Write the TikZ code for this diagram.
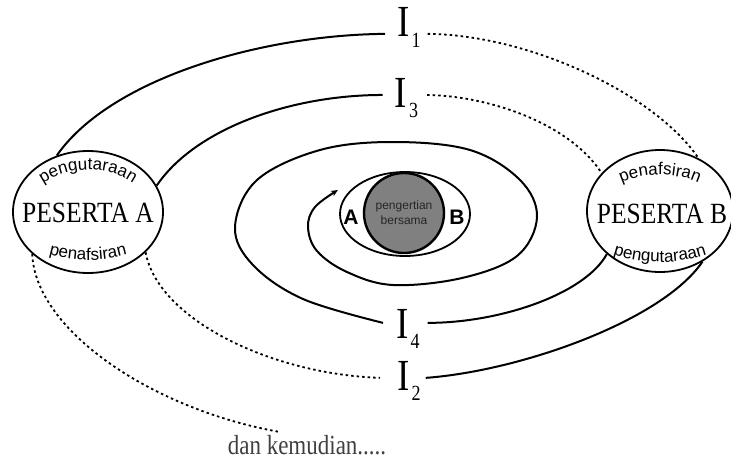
\documentclass[tikz,border=0pt]{standalone}
\usepackage{fontspec}
\setmainfont{Liberation Serif}
\setsansfont{Liberation Sans}
\usetikzlibrary{shapes.geometric,decorations.text,arrows.meta}
\newcommand\Ilab[1]{\scalebox{1}[1.2]{\fontsize{37}{37}\selectfont I\kern2pt\raisebox{-9pt}{\fontsize{18}{18}\selectfont #1}}}
\begin{document}
\begin{tikzpicture}[x=1pt,y=1pt,
  orbit/.style={line width=2pt},
  dotline/.style={line width=1.8pt,dash pattern=on 2.5pt off 3pt},
  pellipse/.style={draw,ellipse,line width=1.8pt,minimum width=150pt,minimum height=122pt,inner sep=0pt},
  ptext/.style={font=\fontsize{25.5}{25.5}\selectfont,inner sep=0pt},
  ilab/.style={inner sep=0pt,anchor=base west},
  ctext/.style={decorate,decoration={text along path,text align=center,text={|\sffamily\fontsize{17}{17}\selectfont|#1}}},
  abl/.style={font=\sffamily\bfseries\fontsize{21}{21}\selectfont,inner sep=0pt}]
\useasboundingbox (0,0) rectangle (731,459);

% participants
\node[pellipse] (PA) at (88,247) {};
\node[pellipse,minimum width=146pt] (PB) at (660,248) {};
\node[ptext] (PAt) at (88,246) {\scalebox{1}[1.15]{PESERTA A}};
\node[ptext] (PBt) at (662,245) {\scalebox{1}[1.15]{PESERTA B}};

\path[ctext=pengutaraan] (PA.center) ++(165:62pt and 42pt) arc[start angle=165,end angle=15,x radius=62pt,y radius=42pt];
\path[ctext=penafsiran] (PA.center) ++(205:85pt and 48pt) arc[start angle=205,end angle=335,x radius=85pt,y radius=48pt];
\path[ctext=penafsiran] (PB.center) ++(160:62pt and 36pt) arc[start angle=160,end angle=20,x radius=62pt,y radius=36pt];
\path[ctext=pengutaraan] (PB.center) ++(205:90pt and 51pt) arc[start angle=205,end angle=335,x radius=90pt,y radius=51pt];

% centre
\node[draw,ellipse,line width=1.8pt,minimum width=130pt,minimum height=84pt,inner sep=0pt] (IE) at (405,245) {};
\node[circle,draw,line width=2.4pt,fill=black!50,minimum size=80pt,inner sep=0pt] (C) at (404,246) {};
\node[font=\sffamily\fontsize{12}{15}\selectfont,text=black!85,align=center] (CT) at (C) {pengertian\\bersama};
\node[abl] (A) at (351,242) {A};
\node[abl] (B) at (457,242) {B};

% I labels
\node[ilab] (I1) at (397,422) {\Ilab{1}};
\node[ilab] (I3) at (394.5,352) {\Ilab{3}};
\node[ilab] (I4) at (396,121) {\Ilab{4}};
\node[ilab] (I2) at (397,69) {\Ilab{2}};

\coordinate (i1l) at ([xshift=-12pt,yshift=-6pt]I1.west);
\coordinate (i1r) at ([xshift=7pt,yshift=-6pt]I1.east);
\coordinate (i3l) at ([xshift=-12pt,yshift=3pt]I3.west);
\coordinate (i3r) at ([xshift=9pt,yshift=3pt]I3.east);
\coordinate (i4l) at ([xshift=-13pt,yshift=6pt]I4.west);
\coordinate (i4r) at ([xshift=8pt,yshift=6pt]I4.east);
\coordinate (i2l) at ([xshift=-17pt,yshift=3pt]I2.west);
\coordinate (i2r) at ([xshift=5pt,yshift=3pt]I2.east);

% I1
\draw[orbit] (PA.119) .. controls (110,380) and (260,424) .. (i1l);
\draw[dotline] (i1r) .. controls (530,424) and (655,365) .. (PB.54.5);
% I3
\draw[orbit] (PA.21) .. controls (195,330) and (290,364) .. (i3l);
\draw[dotline] (i3r) .. controls (490,363) and (570,335) .. (PB.147);
% I2
\draw[dotline] (PA.325) .. controls (158,140) and (270,85) .. (i2l);
\draw[orbit] (i2r) .. controls (520,88) and (662,138) .. (PB.310);
% I4
\draw[orbit] (i4r) .. controls (500,136) and (585,165) .. (PB.219);
\draw[orbit,-{Stealth[length=7pt,width=6pt]}] plot[smooth,tension=0.6] coordinates {
  (i4l) (303,160) (253,194) (235,232) (257,279) (320,309) (393,317) (470,309)
  (520,279) (537,242) (517,203) (462,181) (393,174) (347,187) (317,208)
  (308,232) (315,252) (338,269)};

% and then
\node[font=\fontsize{23}{23}\selectfont,text=black!75,inner sep=1pt] (DK) at (307,14) {\scalebox{1}[1.2]{dan kemudian.....}};
\coordinate (dkend) at (280,27);
\draw[dotline] (PA.217.5) .. controls (35,130) and (150,50) .. (dkend);
\end{tikzpicture}
\end{document}
